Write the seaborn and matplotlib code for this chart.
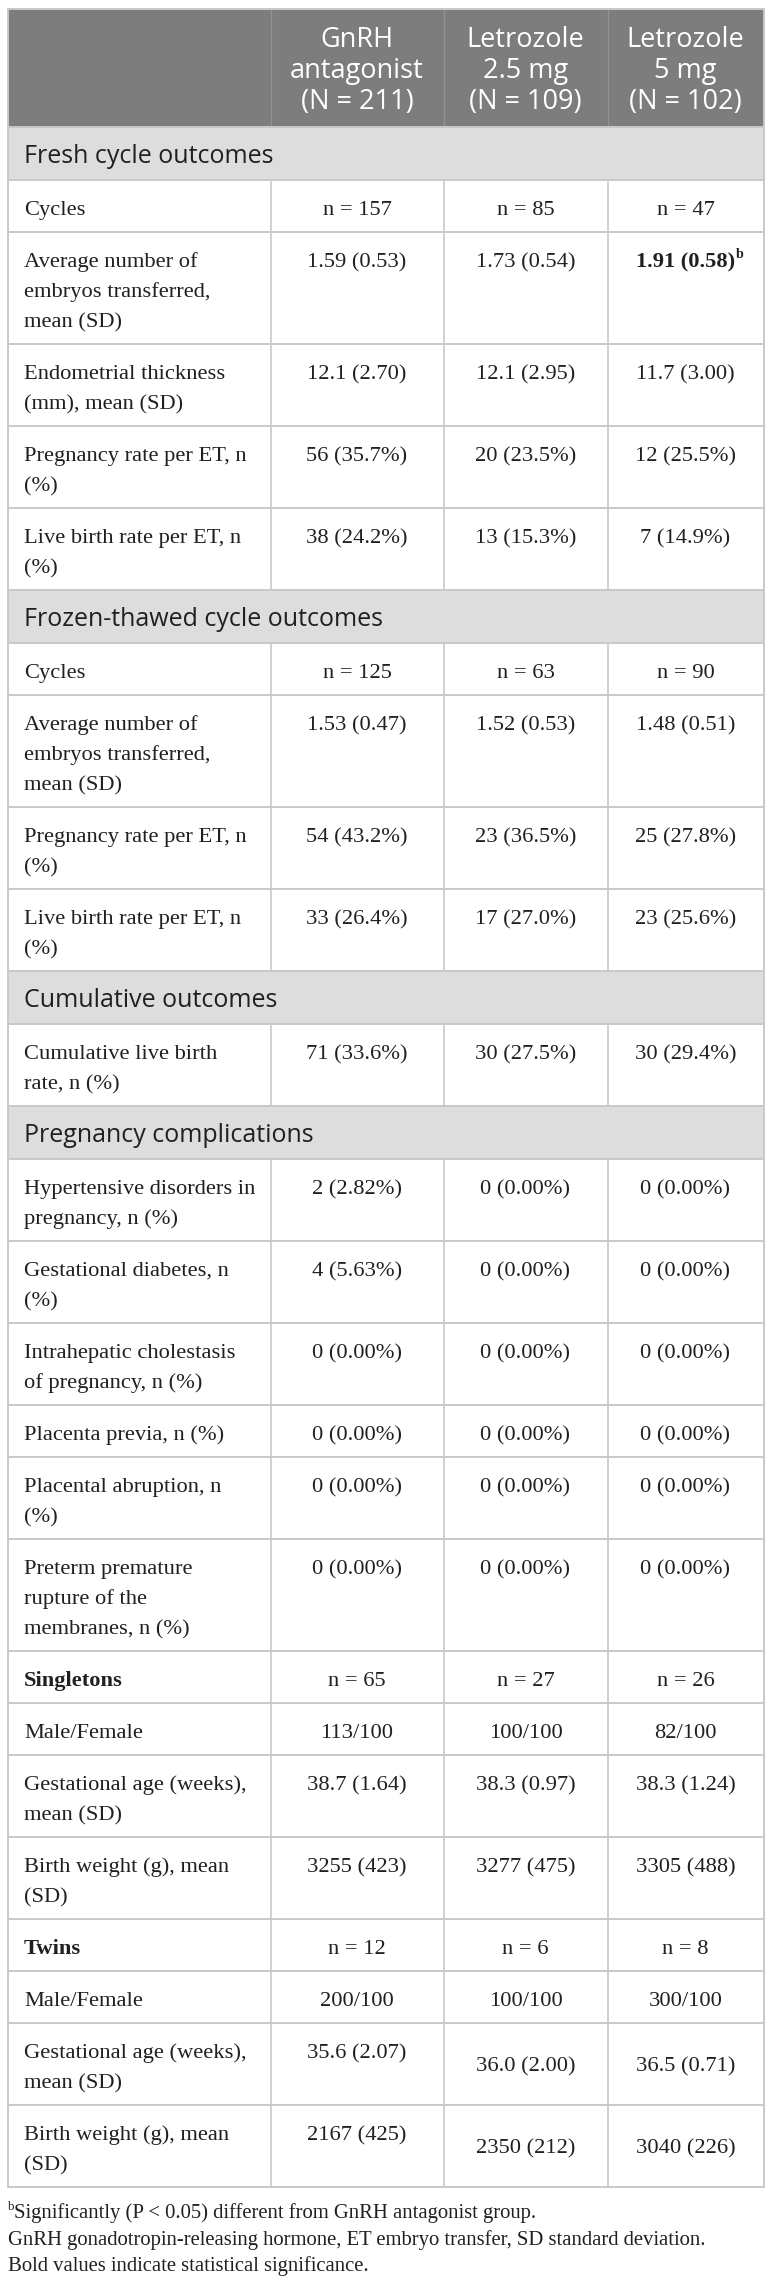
import matplotlib
matplotlib.use("Agg")
import matplotlib.pyplot as plt
from matplotlib.patches import Rectangle
import seaborn as sns

sns.set_theme(style="white")
plt.rcParams['font.family'] = ['Liberation Serif', 'DejaVu Serif']

# ---------------- data ----------------
header_labels = ["GnRH\nantagonist\n(N = 211)", "Letrozole\n2.5 mg\n(N = 109)", "Letrozole\n5 mg\n(N = 102)"]

sections = ["Fresh cycle outcomes", "Frozen-thawed cycle outcomes",
            "Cumulative outcomes", "Pregnancy complications"]

fresh_labels = ["Cycles", "Average number of\nembryos transferred,\nmean (SD)",
                "Endometrial thickness\n(mm), mean (SD)", "Pregnancy rate per ET, n\n(%)",
                "Live birth rate per ET, n\n(%)"]
fresh_gnrh = ["n = 157", "1.59 (0.53)", "12.1 (2.70)", "56 (35.7%)", "38 (24.2%)"]
fresh_let25 = ["n = 85", "1.73 (0.54)", "12.1 (2.95)", "20 (23.5%)", "13 (15.3%)"]
fresh_let5 = ["n = 47", "1.91 (0.58)", "11.7 (3.00)", "12 (25.5%)", "7 (14.9%)"]

frozen_labels = ["Cycles", "Average number of\nembryos transferred,\nmean (SD)",
                 "Pregnancy rate per ET, n\n(%)", "Live birth rate per ET, n\n(%)"]
frozen_gnrh = ["n = 125", "1.53 (0.47)", "54 (43.2%)", "33 (26.4%)"]
frozen_let25 = ["n = 63", "1.52 (0.53)", "23 (36.5%)", "17 (27.0%)"]
frozen_let5 = ["n = 90", "1.48 (0.51)", "25 (27.8%)", "23 (25.6%)"]

cum_labels = ["Cumulative live birth\nrate, n (%)"]
cum_gnrh = ["71 (33.6%)"]
cum_let25 = ["30 (27.5%)"]
cum_let5 = ["30 (29.4%)"]

comp_labels = ["Hypertensive disorders in\npregnancy, n (%)", "Gestational diabetes, n\n(%)",
               "Intrahepatic cholestasis\nof pregnancy, n (%)", "Placenta previa, n (%)",
               "Placental abruption, n\n(%)", "Preterm premature\nrupture of the\nmembranes, n (%)",
               "Singletons", "Male/Female", "Gestational age (weeks),\nmean (SD)",
               "Birth weight (g), mean\n(SD)",
               "Twins", "Male/Female", "Gestational age (weeks),\nmean (SD)",
               "Birth weight (g), mean\n(SD)"]
comp_gnrh = ["2 (2.82%)", "4 (5.63%)", "0 (0.00%)", "0 (0.00%)", "0 (0.00%)", "0 (0.00%)",
             "n = 65", "113/100", "38.7 (1.64)", "3255 (423)",
             "n = 12", "200/100", "35.6 (2.07)", "2167 (425)"]
comp_let25 = ["0 (0.00%)", "0 (0.00%)", "0 (0.00%)", "0 (0.00%)", "0 (0.00%)", "0 (0.00%)",
              "n = 27", "100/100", "38.3 (0.97)", "3277 (475)",
              "n = 6", "100/100", "36.0 (2.00)", "2350 (212)"]
comp_let5 = ["0 (0.00%)", "0 (0.00%)", "0 (0.00%)", "0 (0.00%)", "0 (0.00%)", "0 (0.00%)",
             "n = 26", "82/100", "38.3 (1.24)", "3305 (488)",
             "n = 8", "300/100", "36.5 (0.71)", "3040 (226)"]

bold_labels = ["Singletons", "Twins"]
significant = [("Fresh cycle outcomes", 1, 2)]  # (section, row index, column index) -> bold + superscript b

footnotes = ["Significantly (P < 0.05) different from GnRH antagonist group.",
             "GnRH gonadotropin-releasing hormone, ET embryo transfer, SD standard deviation.",
             "Bold values indicate statistical significance."]

# ---------------- layout ----------------
W, H = 772, 2279
X0, X1 = 7.5, 763.5
COLS = [X0, 270.5, 443.5, 607.5, X1]
HEADER_TOP, HEADER_H = 8.5, 118.5
BAND_H = 53
LINE_H = 30
ROW_BASE = 22

HEADER_BG = "#7d7d7d"
BAND_BG = "#dddddd"
GRID = "#c9c9c9"
TXT = "#231f20"
SERIF = ['Liberation Serif', 'DejaVu Serif']
SANS = ['Open Sans', 'DejaVu Sans']
FS = 16.2
SANS_FS = 18
HEAD_FS = 19.5
FOOT_FS = 14.9

fig = plt.figure(figsize=(W / 100, H / 100), dpi=100)
ax = fig.add_axes([0, 0, 1, 1])
ax.set_xlim(0, W)
ax.set_ylim(H, 0)
ax.axis("off")
renderer = fig.canvas.get_renderer()

# header
ax.add_patch(Rectangle((X0, HEADER_TOP), X1 - X0, HEADER_H, facecolor=HEADER_BG, edgecolor="none"))
for c in COLS[1:-1]:
    ax.plot([c, c], [HEADER_TOP, HEADER_TOP + HEADER_H], color="#939393", lw=0.9)
for j, lab in enumerate(header_labels):
    cx = (COLS[j + 1] + COLS[j + 2]) / 2
    for i, line in enumerate(lab.split("\n")):
        ax.text(cx, HEADER_TOP + 38.5 + 31 * i, line, ha="center", va="baseline",
                color="white", fontsize=HEAD_FS, family=SANS)

y = HEADER_TOP + HEADER_H

groups = [
    (sections[0], fresh_labels, fresh_gnrh, fresh_let25, fresh_let5),
    (sections[1], frozen_labels, frozen_gnrh, frozen_let25, frozen_let5),
    (sections[2], cum_labels, cum_gnrh, cum_let25, cum_let5),
    (sections[3], comp_labels, comp_gnrh, comp_let25, comp_let5),
]

hlines = []
vsegs = []
for sec, labels, v1, v2, v3 in groups:
    ax.add_patch(Rectangle((X0, y), X1 - X0, BAND_H, facecolor=BAND_BG, edgecolor="none"))
    ax.text(X0 + 16.5, y + 36, sec, ha="left", va="baseline", color=TXT,
            fontsize=SANS_FS, family=SANS)
    hlines.append(y)
    y += BAND_H
    hlines.append(y)
    for r, lab in enumerate(labels):
        lines = lab.split("\n")
        h = ROW_BASE + LINE_H * len(lines)
        weight = "bold" if lab in bold_labels else "normal"
        for i, line in enumerate(lines):
            ax.text(X0 + 16.5, y + 35 + LINE_H * i, line, ha="left", va="baseline",
                    color=TXT, fontsize=FS, family=SERIF, weight=weight)
        twins_block = sec == sections[3] and r >= 12
        for j, vals in enumerate((v1, v2, v3)):
            cx = (COLS[j + 1] + COLS[j + 2]) / 2
            by = y + 35
            if twins_block and j > 0:
                by = y + h / 2 + 7
            sig = (sec, r, j) in significant
            t = ax.text(cx, by, vals[r], ha="center", va="baseline", color=TXT,
                        fontsize=FS, family=SERIF, weight="bold" if sig else "normal")
            if sig:
                bb = t.get_window_extent(renderer=renderer)
                ax.text(bb.x1 + 1, by - 9, "b", ha="left", va="baseline", color=TXT,
                        fontsize=FS * 0.62, family=SERIF, weight="bold")
        vsegs.append((y, y + h))
        y += h
        hlines.append(y)

table_bottom = y
for hy in hlines:
    ax.plot([X0, X1], [hy, hy], color=GRID, lw=1.4, solid_capstyle="butt")
for (a, b) in vsegs:
    for c in COLS[1:-1]:
        ax.plot([c, c], [a, b], color=GRID, lw=1.2)
for c in (X0, X1):
    ax.plot([c, c], [HEADER_TOP, table_bottom], color=GRID, lw=1.4)
ax.plot([X0, X1], [HEADER_TOP, HEADER_TOP], color=GRID, lw=1.4)

# footnotes
fy = table_bottom + 31
sup = ax.text(X0, fy - 8, "b", ha="left", va="baseline", color=TXT, fontsize=FOOT_FS * 0.62, family=SERIF)
bb = sup.get_window_extent(renderer=renderer)
ax.text(bb.x1 + 0.5, fy, footnotes[0], ha="left", va="baseline", color=TXT, fontsize=FOOT_FS, family=SERIF)
for k, note in enumerate(footnotes[1:], start=1):
    ax.text(X0, fy + 26.5 * k, note, ha="left", va="baseline", color=TXT, fontsize=FOOT_FS, family=SERIF)

fig.savefig("out.png", dpi=100, facecolor="white")
